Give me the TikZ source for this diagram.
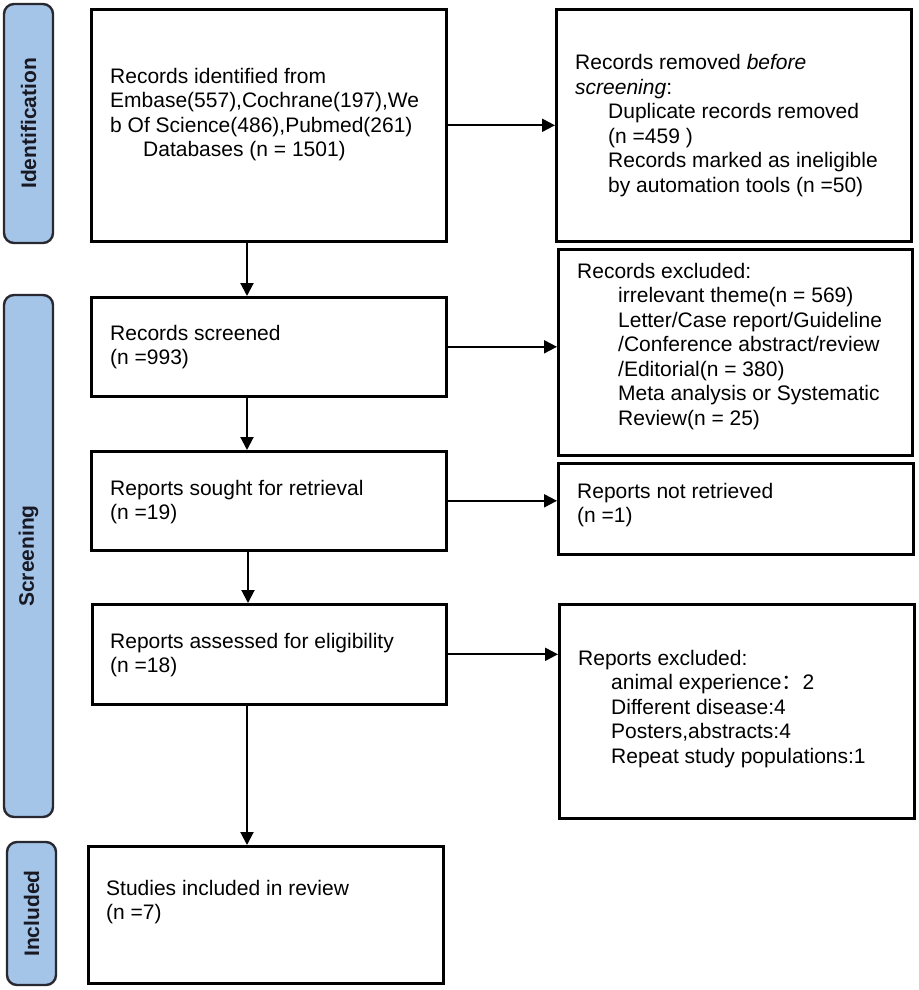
\documentclass[tikz,border=0pt]{standalone}
\usepackage{fontspec}
\setmainfont{Liberation Sans}
\newfontfamily\cjk{Noto Sans CJK SC}
\usetikzlibrary{arrows.meta,calc}
\definecolor{labfill}{RGB}{164,196,232}
\definecolor{labdraw}{RGB}{40,40,48}
\definecolor{labtext}{RGB}{25,25,35}
\begin{document}
\begin{tikzpicture}[x=1pt,y=-1pt,
  box/.style={draw=black,line width=2.6pt,fill=white},
  lab/.style={draw=labdraw,line width=2.4pt,fill=labfill,rounded corners=10pt},
  labtxt/.style={rotate=90,text=labtext,font=\fontsize{21}{24}\selectfont\bfseries,inner sep=0pt},
  txt/.style={anchor=base west,inner sep=0pt,font=\fontsize{21}{24.5}\selectfont},
  arr/.style={line width=2pt,-{Triangle[length=13pt,width=13pt]}}]
\useasboundingbox (0,0) rectangle (918,990);

% phase labels
\draw[lab] (4,4) rectangle (53,243);
\node[labtxt] (lid) at (28.5,123.5) {Identification};
\draw[lab] (4,295) rectangle (53,817);
\node[labtxt] (lsc) at (28.5,556) {Screening};
\draw[lab] (7,842) rectangle (56,985);
\node[labtxt] (lin) at (31.5,913.5) {Included};

% boxes
\node[box,minimum width=355pt,minimum height=232pt,inner sep=0,anchor=north west] (b1) at (90,8) {};
\node[box,minimum width=355pt,minimum height=232pt,inner sep=0,anchor=north west] (b2) at (555,8) {};
\node[box,minimum width=355pt,minimum height=99pt,inner sep=0,anchor=north west] (b3) at (90,296) {};
\node[box,minimum width=354pt,minimum height=206pt,inner sep=0,anchor=north west] (b4) at (557,248) {};
\node[box,minimum width=355pt,minimum height=99pt,inner sep=0,anchor=north west] (b5) at (90,450) {};
\node[box,minimum width=355pt,minimum height=91pt,inner sep=0,anchor=north west] (b6) at (557,462) {};
\node[box,minimum width=354pt,minimum height=100pt,inner sep=0,anchor=north west] (b7) at (91,603) {};
\node[box,minimum width=355pt,minimum height=214pt,inner sep=0,anchor=north west] (b8) at (558,603) {};
\node[box,minimum width=355pt,minimum height=137pt,inner sep=0,anchor=north west] (b9) at (87,845) {};

% texts
\node[txt] (t1) at (110,83) {\parbox[t]{330pt}{\raggedright Records identified from\\
Embase(557),Cochrane(197),We\\
b Of Science(486),Pubmed(261)\\
\hspace*{33pt}Databases (n = 1501)}};
\node[txt] (t2) at (575,70) {\parbox[t]{330pt}{\raggedright Records removed \textit{before}\\
\textit{screening}:\\
\hspace*{33pt}Duplicate records removed\\
\hspace*{33pt}(n =459 )\\
\hspace*{33pt}Records marked as ineligible\\
\hspace*{33pt}by automation tools (n =50)}};
\node[txt] (t3) at (110,340) {\parbox[t]{330pt}{\raggedright Records screened\\(n =993)}};
\node[txt] (t4) at (577,278) {\parbox[t]{330pt}{\raggedright Records excluded:\\
\hspace*{41pt}irrelevant theme(n = 569)\\
\hspace*{41pt}Letter/Case report/Guideline\\
\hspace*{41pt}/Conference abstract/review\\
\hspace*{41pt}/Editorial(n = 380)\\
\hspace*{41pt}Meta analysis or Systematic\\
\hspace*{41pt}Review(n = 25)}};
\node[txt] (t5) at (110,495) {\parbox[t]{330pt}{\raggedright Reports sought for retrieval\\(n =19)}};
\node[txt] (t6) at (577,498) {\parbox[t]{330pt}{\raggedright Reports not retrieved\\(n =1)}};
\node[txt] (t7) at (110,648) {\parbox[t]{330pt}{\raggedright Reports assessed for eligibility\\(n =18)}};
\node[txt] (t8) at (578,665) {\parbox[t]{330pt}{\raggedright Reports excluded:\\
\hspace*{33pt}animal experience{\cjk ：}2\\
\hspace*{33pt}Different disease:4\\
\hspace*{33pt}Posters,abstracts:4\\
\hspace*{33pt}Repeat study populations:1}};
\node[txt] (t9) at (106,895) {\parbox[t]{330pt}{\raggedright Studies included in review\\(n =7)}};

% connectors
\coordinate (cx) at (247,0);
\coordinate (cx2) at (248,0);
\draw[arr] (b1.east) -- (b2.west);
\draw[arr] (b1.south -| cx) -- (b3.north -| cx);
\draw[arr] (b3.east) -- (b3.east -| b4.west);
\draw[arr] (b3.south -| cx) -- (b5.north -| cx);
\draw[arr] (b5.east) -- (b5.east -| b6.west);
\draw[arr] (b5.south -| cx2) -- (b7.north -| cx2);
\draw[arr] (b7.east) -- (b7.east -| b8.west);
\draw[arr] (b7.south -| cx) -- (b9.north -| cx);
\end{tikzpicture}
\end{document}
